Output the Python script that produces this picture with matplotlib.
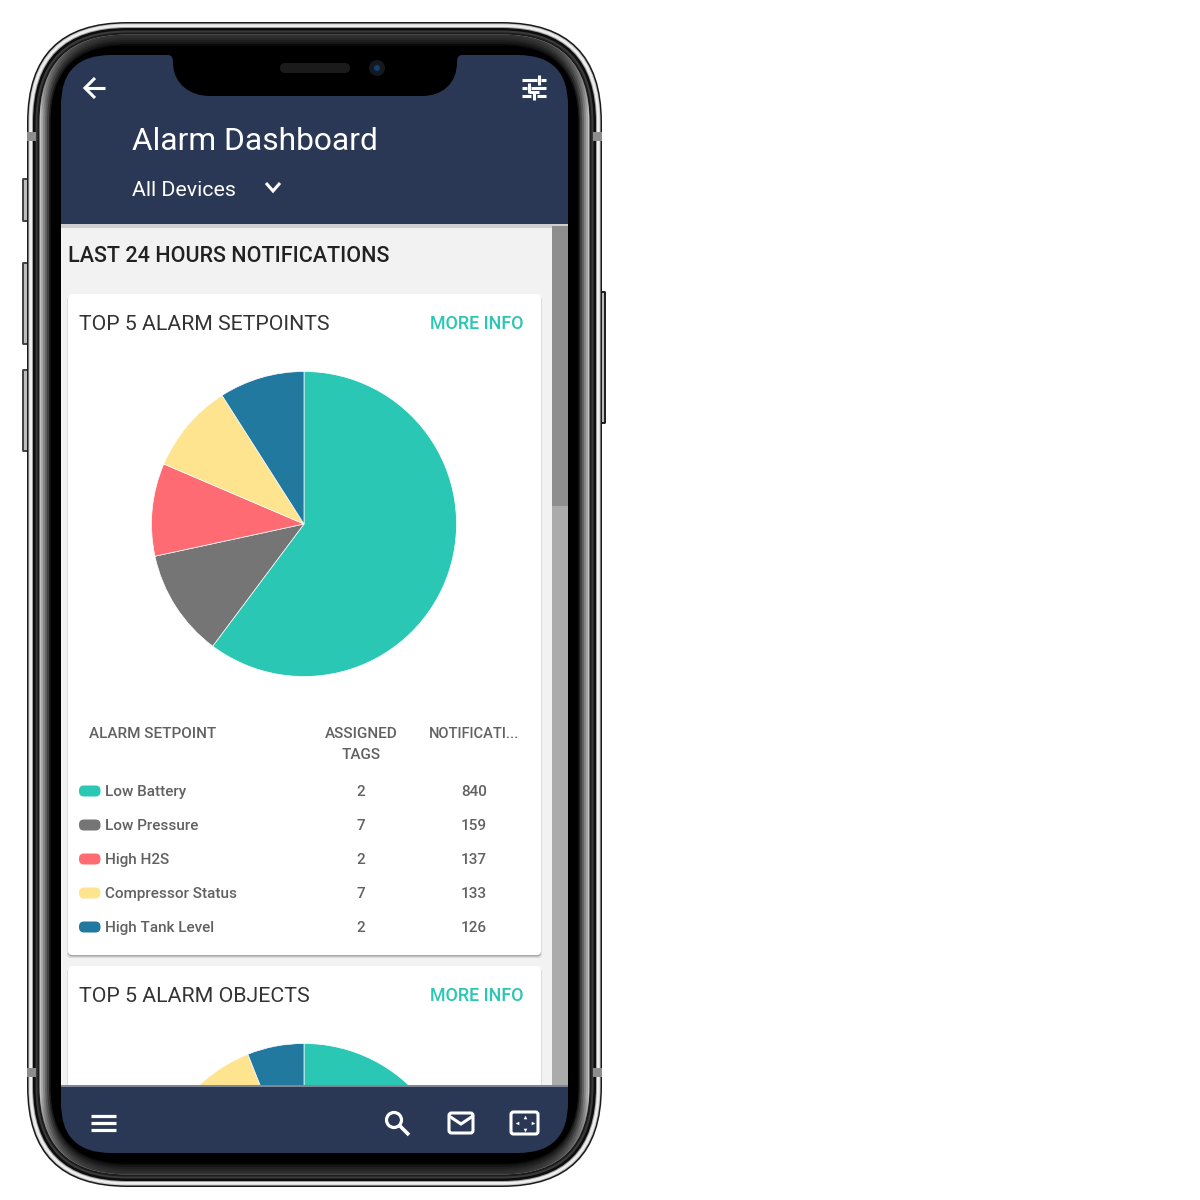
import matplotlib
matplotlib.use("Agg")
import matplotlib.pyplot as plt
import numpy as np
from matplotlib.patches import FancyBboxPatch, Rectangle, Circle, PathPatch
from matplotlib.path import Path

plt.rcParams['font.family'] = ['Roboto', 'DejaVu Sans']

# Data
setpoints = ["Low Battery", "Low Pressure", "High H2S", "Compressor Status", "High Tank Level"]
assigned_tags = [2, 7, 2, 7, 2]
notifications = [840, 159, 137, 133, 126]
# second card is cut off by the nav bar, shares are estimated
objects_share = [60, 12, 11, 11, 6]
slice_colors = ["#2AC7B4", "#757575", "#FF6B72", "#FFE48F", "#21799F"]

NAVY = "#2A3855"
H = 1200

fig = plt.figure(figsize=(12, 12), dpi=100, facecolor="white")
ax = fig.add_axes([0, 0, 1, 1])


def Y(py):
    return H - py


def rrect(x0, y0, x1, y1, r, color, z=1, **kw):
    p = FancyBboxPatch((x0, Y(y1)), x1 - x0, y1 - y0, boxstyle=f"round,pad=0,rounding_size={r}",
                       fc=color, ec="none", zorder=z, **kw)
    ax.add_patch(p)
    return p


def rect(x0, y0, x1, y1, color, z=1, **kw):
    p = Rectangle((x0, Y(y1)), x1 - x0, y1 - y0, fc=color, ec="none", zorder=z, **kw)
    ax.add_patch(p)
    return p


def line(xs, ys, lw=2.2, color="white", z=20):
    ax.plot(xs, [Y(v) for v in ys], color=color, lw=lw, zorder=z, solid_capstyle="butt", solid_joinstyle="miter")


def txt(x, y, s, size, color="#333333", ha="left", weight="normal", z=10):
    ax.text(x, Y(y), s, fontsize=size, color=color, ha=ha, va="center", fontweight=weight, zorder=z)


# pies first, everything else is layered over them
wedges, _ = ax.pie(notifications, center=(304, Y(524)), radius=152.5, startangle=90, counterclock=False,
                   colors=slice_colors, frame=True, wedgeprops=dict(edgecolor="white", linewidth=0.5))
wedges2, _ = ax.pie(objects_share, center=(304, Y(1196)), radius=152.5, startangle=90, counterclock=False,
                    colors=slice_colors, frame=True, wedgeprops=dict(edgecolor="white", linewidth=0.5))
ax.set_xlim(0, 1200)
ax.set_ylim(0, 1200)
ax.set_aspect("equal")
ax.axis("off")

# side buttons
for y0, y1 in [(178, 222), (262, 345), (369, 452)]:
    rrect(22, y0, 30, y1, 1.5, "#444444", 0.5)
    rect(24, y0 + 2, 30, y1 - 2, "#bdbdbd", 0.6)
rrect(598, 291, 606, 424, 1.5, "#222222", 0.5)
rect(598, 293, 604, 422, "#bdbdbd", 0.6)

# phone body, nested rounded rects from the outer edge inwards
layers = [(0, "#1a1a1a"), (1.5, "#c9c9c9"), (2.5, "#eeeeee"), (5, "#a0a0a0"), (6, "#0d0d0d"),
          (8.5, "#3a3a3a"), (10.5, "#1c1c1c"), (12.5, "#c2c2c2"), (14, "#a6a6a6"), (16, "#858585"),
          (18, "#626262"), (20, "#404040"), (22, "#1e1e1e"), (23.5, "#000000")]
for i, (inset, c) in enumerate(layers):
    rrect(27 + inset, 22 + inset, 602 - inset, 1187 - inset, max(100 - inset, 40), c, 1 + i * 0.01)

# top and bottom of the bezel fade to black, the sides stay grey
shade = np.zeros((80, 2, 4))
shade[:, :, 3] = np.linspace(0.75, 0.0, 80).reshape(-1, 1)
band = FancyBboxPatch((39.5, Y(1174.5)), 550, 1140, boxstyle="round,pad=0,rounding_size=88", transform=ax.transData)
for ext, data in [((27, 602, Y(115), Y(34)), shade), ((27, 602, Y(1175), Y(1094)), shade[::-1])]:
    im = ax.imshow(data, extent=ext, aspect="auto", zorder=1.5)
    im.set_clip_path(band)
ax.set_xlim(0, 1200)
ax.set_ylim(0, 1200)

# antenna bands
for y0 in [132, 1068]:
    rect(27, y0, 36, y0 + 9, "#8d8d8d", 2)
    rect(593, y0, 602, y0 + 9, "#8d8d8d", 2)

# screen
rrect(61, 55, 568, 1153, 50, NAVY, 2)
rect(61, 226, 568, 1085, "#F2F2F2", 2.1)
rect(61, 224, 568, 228, "#cfcfcf", 2.15)
rect(552, 226, 568, 1085, "#ABABAB", 2.2)
rect(552, 226, 568, 506, "#8E8E8E", 2.3)

# notch
notch = Path([(168, Y(55)), (173, Y(55)), (173, Y(62)),
              (173, Y(84)), (190, Y(96)), (210, Y(96)),
              (422, Y(96)), (442, Y(96)), (457, Y(84)), (457, Y(62)),
              (457, Y(55)), (462, Y(55)), (168, Y(55))],
             [Path.MOVETO, Path.CURVE3, Path.CURVE3,
              Path.CURVE4, Path.CURVE4, Path.CURVE4,
              Path.LINETO, Path.CURVE4, Path.CURVE4, Path.CURVE4,
              Path.CURVE3, Path.CURVE3, Path.CLOSEPOLY])
ax.add_patch(PathPatch(notch, fc="black", ec="none", zorder=3))
rrect(280, 63, 350, 73, 5, "#1b1b1b", 3.1)
ax.add_patch(Circle((377, Y(68)), 8, fc="#14181f", ec="none", zorder=3.1))
ax.add_patch(Circle((377, Y(68)), 3, fc="#123f73", ec="none", zorder=3.2))

# header
txt(132, 142, "Alarm Dashboard", 22.9, "white")
txt(132, 190, "All Devices", 15.4, "white")
line([266, 273, 280], [183, 191, 183], 2.2)
line([105, 85], [88, 88], 2.2)
line([95, 85, 95], [78, 88, 98], 2.2)
# sliders icon
for xa, xb, yy in [(522, 537, 80), (541, 546, 80), (522, 527, 88), (531, 546, 88), (522, 531, 96), (537, 546, 96)]:
    line([xa, xb], [yy, yy], 2.2)
line([539, 539], [75, 85], 2.2)
line([529, 529], [83, 93], 2.2)
line([534, 534], [92, 100], 2.2)
line([529, 539], [92, 92], 2.2)

txt(68, 256, "LAST 24 HOURS NOTIFICATIONS", 15.5, "#212121", weight="medium")

# cards, shadow only shows below; anything in the second card stops at the nav bar
second_clip = Rectangle((61, Y(1085)), 507, 119, transform=ax.transData)
for (y0, y1), clip in [((294, 955), False), ((966, 1120), True)]:
    parts = [rrect(67, y0 + 2, 542, y1 + 3, 4, "#dcdcdc", 2.4),
             rrect(68, y0 + 1, 541, y1 + 1.5, 4, "#a8a8a8", 2.45),
             rrect(68, y0, 541, y1, 4, "white", 2.5)]
    if clip:
        for part in parts:
            part.set_clip_path(second_clip)
for w in list(wedges) + list(wedges2):
    w.set_zorder(5)
# pie() turns clipping off on its wedges
for w in wedges2:
    w.set_clip_on(True)
    w.set_clip_path(second_clip)

txt(79, 324, "TOP 5 ALARM SETPOINTS", 15.3, "#333333")
txt(523, 324, "MORE INFO", 12.9, "#2AC7B4", ha="right", weight="medium")
txt(79, 996, "TOP 5 ALARM OBJECTS", 15.4, "#333333")
txt(523, 996, "MORE INFO", 12.9, "#2AC7B4", ha="right", weight="medium")

# table
head = "#616161"
txt(89, 734, "ALARM SETPOINT", 11, head, weight="medium")
txt(361, 734, "ASSIGNED", 11, head, ha="center", weight="medium")
txt(361, 755, "TAGS", 11, head, ha="center", weight="medium")
txt(429, 734, "NOTIFICATI...", 10.5, head, weight="medium")

row_y = [791, 825, 859, 893, 927]
for i in range(5):
    rrect(79, row_y[i] - 5.5, 100.5, row_y[i] + 5.5, 5, slice_colors[i], 6)
    txt(105, row_y[i] + 0.7, setpoints[i], 11, head, weight="medium")
    txt(361, row_y[i] + 1, str(assigned_tags[i]), 11, head, ha="center", weight="medium")
    txt(474, row_y[i] + 1, str(notifications[i]), 11, head, ha="center", weight="medium")

# nav bar, the screen's own navy shows below the content
rect(61, 1084.5, 568, 1086.5, "#7f8797", 7.1)
for yy in [1116, 1123, 1130]:
    line([91, 116], [yy, yy], 2.3)
ax.add_patch(Circle((394, Y(1120)), 7.5, fc="none", ec="white", lw=2.3, zorder=20))
line([400, 409], [1126, 1135], 2.6)
p = FancyBboxPatch((449, Y(1133)), 24, 20, boxstyle="round,pad=0,rounding_size=2.5", fc="none", ec="white", lw=2.2, zorder=20)
ax.add_patch(p)
line([449, 461, 473], [1116, 1124, 1116], 2.2)
p = FancyBboxPatch((511, Y(1134)), 27, 22, boxstyle="round,pad=0,rounding_size=2.5", fc="none", ec="white", lw=2.2, zorder=20)
ax.add_patch(p)
for mx, my, mk in [(524.5, 1116.5, "^"), (524.5, 1129.5, "v"), (516.5, 1123, "<"), (532.5, 1123, ">")]:
    ax.plot([mx], [Y(my)], marker=mk, ms=2.6, color="white", mew=0, zorder=20)

fig.savefig("out.png", dpi=100, facecolor="white")
